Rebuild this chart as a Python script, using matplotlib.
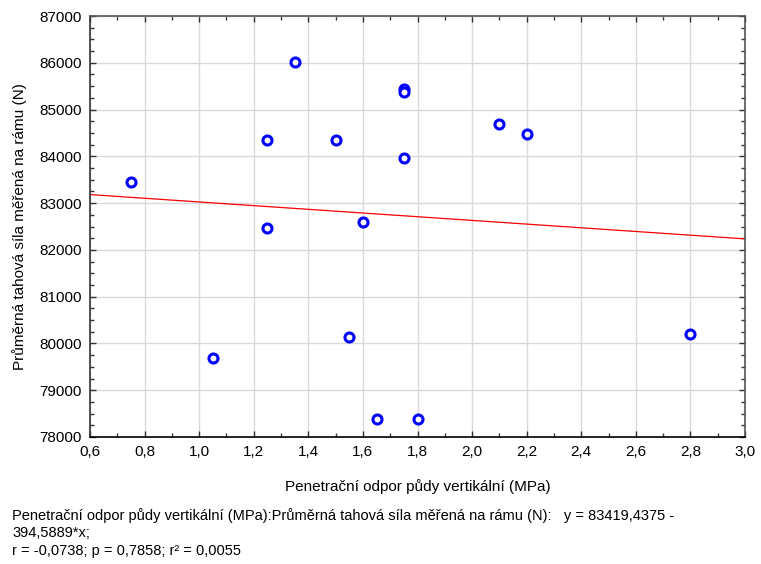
import numpy as np
import matplotlib
matplotlib.use("Agg")
import matplotlib.pyplot as plt
from matplotlib.ticker import MultipleLocator, FuncFormatter

plt.rcParams['font.family'] = ['Liberation Sans', 'DejaVu Sans']

# penetration resistance (MPa) and mean draught force (N)
penetrace = [0.75, 1.05, 1.25, 1.25, 1.35, 1.50, 1.55, 1.60, 1.65,
             1.75, 1.75, 1.75, 1.80, 2.10, 2.20, 2.80]
sila = [83450, 79690, 84350, 82470, 86010, 84350, 80140, 82600, 78380,
        85440, 85380, 83960, 78380, 84700, 84480, 80200]

# regression y = a + b*x (from the stats output)
a = 83419.4375
b = -394.5889

x_label = "Penetrační odpor půdy vertikální (MPa)"
y_label = "Průměrná tahová síla měřená na rámu (N)"
caption = ("Penetrační odpor půdy vertikální (MPa):Průměrná tahová síla měřená na rámu (N):   y = 83419,4375 -\n"
           "394,5889*x;\n"
           "r = -0,0738; p = 0,7858; r² = 0,0055")


def main():
    fig = plt.figure(figsize=(7.61, 5.64), dpi=100)
    ax = fig.add_axes([90 / 761, 1 - 437 / 564, 655 / 761, 421 / 564])

    xs = np.array([0.6, 3.0])
    ax.plot(xs, a + b * xs, color='red', lw=0.9, zorder=2)
    ax.plot(penetrace, sila, 'o', ms=6.5, mfc='white', mec='#0000ff', mew=2.2,
            zorder=3, clip_on=False)

    ax.set_xlim(0.6, 3.0)
    ax.set_ylim(78000, 87000)
    ax.xaxis.set_major_locator(MultipleLocator(0.2))
    ax.xaxis.set_minor_locator(MultipleLocator(0.1))
    ax.yaxis.set_major_locator(MultipleLocator(1000))
    ax.yaxis.set_minor_locator(MultipleLocator(250))
    ax.xaxis.set_major_formatter(FuncFormatter(lambda v, p: f"{v:.1f}".replace('.', ',')))
    ax.yaxis.set_major_formatter(FuncFormatter(lambda v, p: f"{v:.0f}"))

    ax.grid(True, which='major', color='#d9d9d9', lw=1, zorder=0)
    ax.set_axisbelow(True)
    ax.tick_params(which='both', direction='in', top=True, right=True,
                   labelsize=11, color='#333333', width=1)
    ax.tick_params(which='major', length=4, pad=6)
    ax.tick_params(which='minor', length=3)
    for s in ax.spines.values():
        s.set_color('#555555')
        s.set_linewidth(1.2)
    ax.spines['bottom'].set_color('black')
    ax.spines['left'].set_color('#333333')

    ax.set_xlabel(x_label, fontsize=11, labelpad=14)
    ax.set_ylabel(y_label, fontsize=11, labelpad=9)

    fig.text(12 / 761, 1 - 508 / 564, caption, fontsize=10.5, va='top',
             ha='left', linespacing=1.3)

    fig.savefig("out.png", dpi=100)


if __name__ == "__main__":
    main()
